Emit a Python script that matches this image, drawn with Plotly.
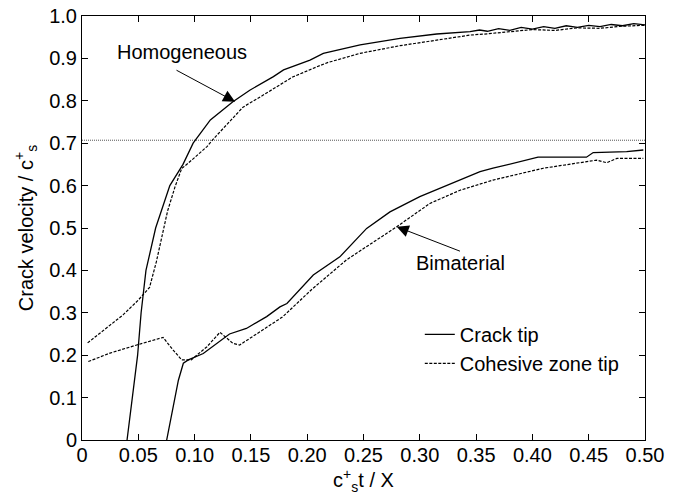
import plotly.graph_objects as go

# ---------------- data ----------------
hom_tip_x = [0.040, 0.045, 0.0494, 0.0525, 0.0568, 0.0654, 0.078, 0.0897, 0.0987, 0.114, 0.134,
             0.149, 0.170, 0.179, 0.2025, 0.2143, 0.247, 0.2824, 0.315, 0.3446, 0.353,
             0.36, 0.37, 0.38, 0.39, 0.40, 0.41, 0.42, 0.43, 0.44, 0.45, 0.46, 0.47, 0.48, 0.49, 0.50]
hom_tip_y = [0.0, 0.10, 0.20, 0.30, 0.40, 0.50, 0.60, 0.65, 0.70, 0.755, 0.798,
             0.825, 0.857, 0.873, 0.896, 0.912, 0.932, 0.947, 0.9575, 0.963, 0.967,
             0.964, 0.970, 0.966, 0.973, 0.969, 0.975, 0.971, 0.977, 0.973, 0.978, 0.975, 0.980, 0.977, 0.982, 0.979]

hom_coh_x = [0.005, 0.020, 0.0364, 0.050, 0.060, 0.066, 0.072, 0.076, 0.0826, 0.0885, 0.0974,
             0.111, 0.116, 0.143, 0.160, 0.187, 0.2084, 0.218, 0.247, 0.2824, 0.315, 0.3446,
             0.36, 0.38, 0.40, 0.42, 0.44, 0.46, 0.48, 0.50]
hom_coh_y = [0.229, 0.26, 0.295, 0.33, 0.36, 0.42, 0.495, 0.54, 0.597, 0.64, 0.66,
             0.692, 0.708, 0.785, 0.812, 0.856, 0.880, 0.890, 0.912, 0.930, 0.943, 0.955,
             0.958, 0.963, 0.968, 0.966, 0.972, 0.971, 0.976, 0.978]

bim_tip_x = [0.0752, 0.081, 0.0856, 0.090, 0.0944, 0.1077, 0.1196, 0.131, 0.146, 0.164, 0.1758,
             0.182, 0.2054, 0.229, 0.2528, 0.2735, 0.300, 0.324, 0.3357, 0.3535, 0.365, 0.386,
             0.405, 0.448, 0.454, 0.4837, 0.4985]
bim_tip_y = [0.0, 0.079, 0.141, 0.181, 0.189, 0.204, 0.228, 0.25, 0.263, 0.291, 0.314,
             0.322, 0.389, 0.432, 0.499, 0.538, 0.574, 0.601, 0.614, 0.633, 0.641, 0.654,
             0.667, 0.667, 0.678, 0.680, 0.684]

bim_coh_x = [0.0056, 0.0249, 0.0486, 0.072, 0.081, 0.0885, 0.097, 0.111, 0.1225, 0.134, 0.140,
             0.158, 0.178, 0.204, 0.235, 0.2795, 0.309, 0.3357, 0.365, 0.4097, 0.439, 0.457,
             0.466, 0.475, 0.4985]
bim_coh_y = [0.185, 0.205, 0.224, 0.242, 0.212, 0.189, 0.189, 0.22, 0.254, 0.228, 0.224,
             0.255, 0.29, 0.355, 0.425, 0.503, 0.558, 0.589, 0.613, 0.641, 0.653, 0.660,
             0.654, 0.664, 0.664]

ref_x = [0.0, 0.5]
ref_y = [0.707, 0.707]

x_ticks = [0, 0.05, 0.10, 0.15, 0.20, 0.25, 0.30, 0.35, 0.40, 0.45, 0.50]
x_labels = ["0", "0.05", "0.10", "0.15", "0.20", "0.25", "0.30", "0.35", "0.40", "0.45", "0.50"]
y_ticks = [0, 0.1, 0.2, 0.3, 0.4, 0.5, 0.6, 0.7, 0.8, 0.9, 1.0]
y_labels = ["0", "0.1", "0.2", "0.3", "0.4", "0.5", "0.6", "0.7", "0.8", "0.9", "1.0"]

FONT = "Liberation Sans, Arial, sans-serif"
FS = 20

fig = go.Figure()
solid = dict(color="black", width=1.3)
dashed = dict(color="black", width=1.2, dash="3px,1.5px")

fig.add_trace(go.Scatter(x=ref_x, y=ref_y, mode="lines",
                         line=dict(color="#555", width=1, dash="1px,1px"), showlegend=False))
fig.add_trace(go.Scatter(x=hom_tip_x, y=hom_tip_y, mode="lines", line=solid,
                         name="Crack tip", showlegend=True))
fig.add_trace(go.Scatter(x=hom_coh_x, y=hom_coh_y, mode="lines", line=dashed,
                         name="Cohesive zone tip", showlegend=True))
fig.add_trace(go.Scatter(x=bim_tip_x, y=bim_tip_y, mode="lines", line=solid, showlegend=False))
fig.add_trace(go.Scatter(x=bim_coh_x, y=bim_coh_y, mode="lines", line=dashed, showlegend=False))

# labels with arrows
fig.add_annotation(x=0.0885, y=0.916, text="Homogeneous", showarrow=False,
                   font=dict(family=FONT, size=FS, color="black"))
fig.add_annotation(x=0.136, y=0.798, ax=0.0826, ay=0.874, axref="x", ayref="y",
                   text="", showarrow=True, arrowhead=2, arrowsize=2.4, arrowwidth=1,
                   arrowcolor="black")
fig.add_annotation(x=0.336, y=0.417, text="Bimaterial", showarrow=False,
                   font=dict(family=FONT, size=FS, color="black"))
fig.add_annotation(x=0.2795, y=0.503, ax=0.337, ay=0.444, axref="x", ayref="y",
                   text="", showarrow=True, arrowhead=2, arrowsize=2.4, arrowwidth=1,
                   arrowcolor="black")

axis_common = dict(showgrid=False, zeroline=False, showline=True, linecolor="black",
                   linewidth=1, mirror="ticks", ticks="inside", ticklen=6,
                   tickcolor="black", tickwidth=1, automargin=False,
                   tickfont=dict(family=FONT, size=FS, color="black"))

fig.update_layout(
    width=684, height=495,
    margin=dict(l=82, r=39, t=16, b=55),
    paper_bgcolor="white", plot_bgcolor="white",
    font=dict(family=FONT, size=FS, color="black"),
    xaxis=dict(range=[0, 0.5], tickvals=x_ticks, ticktext=x_labels, ticklabelstandoff=-3,
               title=dict(text="c<sup>+</sup><sub>s</sub>t / X", standoff=3,
                          font=dict(family=FONT, size=FS)), **axis_common),
    yaxis=dict(range=[0, 1], tickvals=y_ticks, ticktext=y_labels,
               title=dict(text="Crack velocity / c<sup>+</sup><sub>s</sub>", standoff=10,
                          font=dict(family=FONT, size=FS)), **axis_common),
    legend=dict(x=0.6, y=0.295, xanchor="left", yanchor="top", bgcolor="rgba(0,0,0,0)",
                borderwidth=0, font=dict(family=FONT, size=FS), tracegroupgap=0,
                itemwidth=30),
    showlegend=True,
)

fig.write_html("out.html")
